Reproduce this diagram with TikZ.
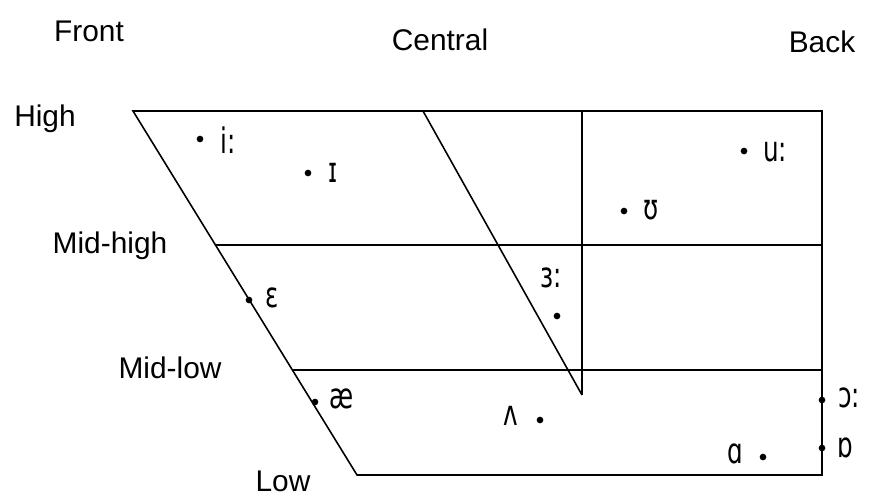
\documentclass[tikz,border=0pt]{standalone}
\usepackage{fontspec}
\setmainfont{Liberation Sans}
\newfontfamily\ipafont[FakeStretch=0.7]{DejaVu Sans}
\usetikzlibrary{positioning}

\begin{document}
\begin{tikzpicture}[
x=0.02cm,y=-0.02cm,
line/.style={line width=0.9pt,draw=black},
vdot/.style={circle,fill=black,inner sep=0pt,minimum size=3.8pt},
axis/.style={font=\fontsize{17}{20}\selectfont,inner sep=0pt},
ipa/.style={font=\ipafont\fontsize{20}{24}\selectfont,anchor=base west,inner sep=0pt}
]
\useasboundingbox (0,0) rectangle (874,495);
% chart corners
\coordinate (tl) at (133,111);
\coordinate (tr) at (822,111);
\coordinate (br) at (822,475);
\coordinate (bl) at (357,475);
\coordinate (mhl) at (215,245); \coordinate (mhr) at (822,245);
\coordinate (mll) at (292,370); \coordinate (mlr) at (822,370);
\coordinate (ct) at (423,111); \coordinate (cb) at (582,395);
\coordinate (vt) at (582,111);
\draw[line] (tl)--(tr)--(br)--(bl)--cycle;
\draw[line] (mhl)--(mhr); \draw[line] (mll)--(mlr);
\draw[line] (ct)--(cb); \draw[line] (vt)--(cb);
% axis labels
\node[axis] (front) at (89,31) {Front};
\node[axis] (central) at (440,40) {Central};
\node[axis] (back) at (822,42) {Back};
\node[axis] (high) at (45,119) {High};
\node[axis] (midhigh) at (110,246) {Mid-high};
\node[axis] (midlow) at (170,368) {Mid-low};
\node[axis] (low) at (283,481) {Low};
% vowels
\node[vdot] (iidot) at (200,139) {};   \node[ipa] (ii) at (220,153) {i:};
\node[vdot] (ihdot) at (308,173) {};   \node[ipa] (ih) at (328,182) {ɪ};
\node[vdot] (uudot) at (744,151) {};   \node[ipa] (uu) at (763,161) {u:};
\node[vdot] (uhdot) at (624,211) {};   \node[ipa] (uh) at (643,219) {ʊ};
\node[vdot] (erdot) at (557,316) {};   \node[ipa] (er) at (540,287) {ɜ:};
\node[vdot] (ehdot) at (249,300) {};   \node[ipa] (eh) at (265,307) {ɛ};
\node[vdot] (aedot) at (315,402) {};   \node[ipa] (ae) at (329,408) {æ};
\node[vdot] (ahdot) at (540,420) {};   \node[ipa] (ah) at (503,425) {ʌ};
\node[vdot] (aadot) at (763,457) {};   \node[ipa] (aa) at (727,463) {ɑ};
\node[vdot] (aodot) at (822,400) {};   \node[ipa] (ao) at (838,407) {ɔ:};
\node[vdot] (ohdot) at (822,448) {};   \node[ipa] (oh) at (837,457) {ɒ};
\end{tikzpicture}
\end{document}
